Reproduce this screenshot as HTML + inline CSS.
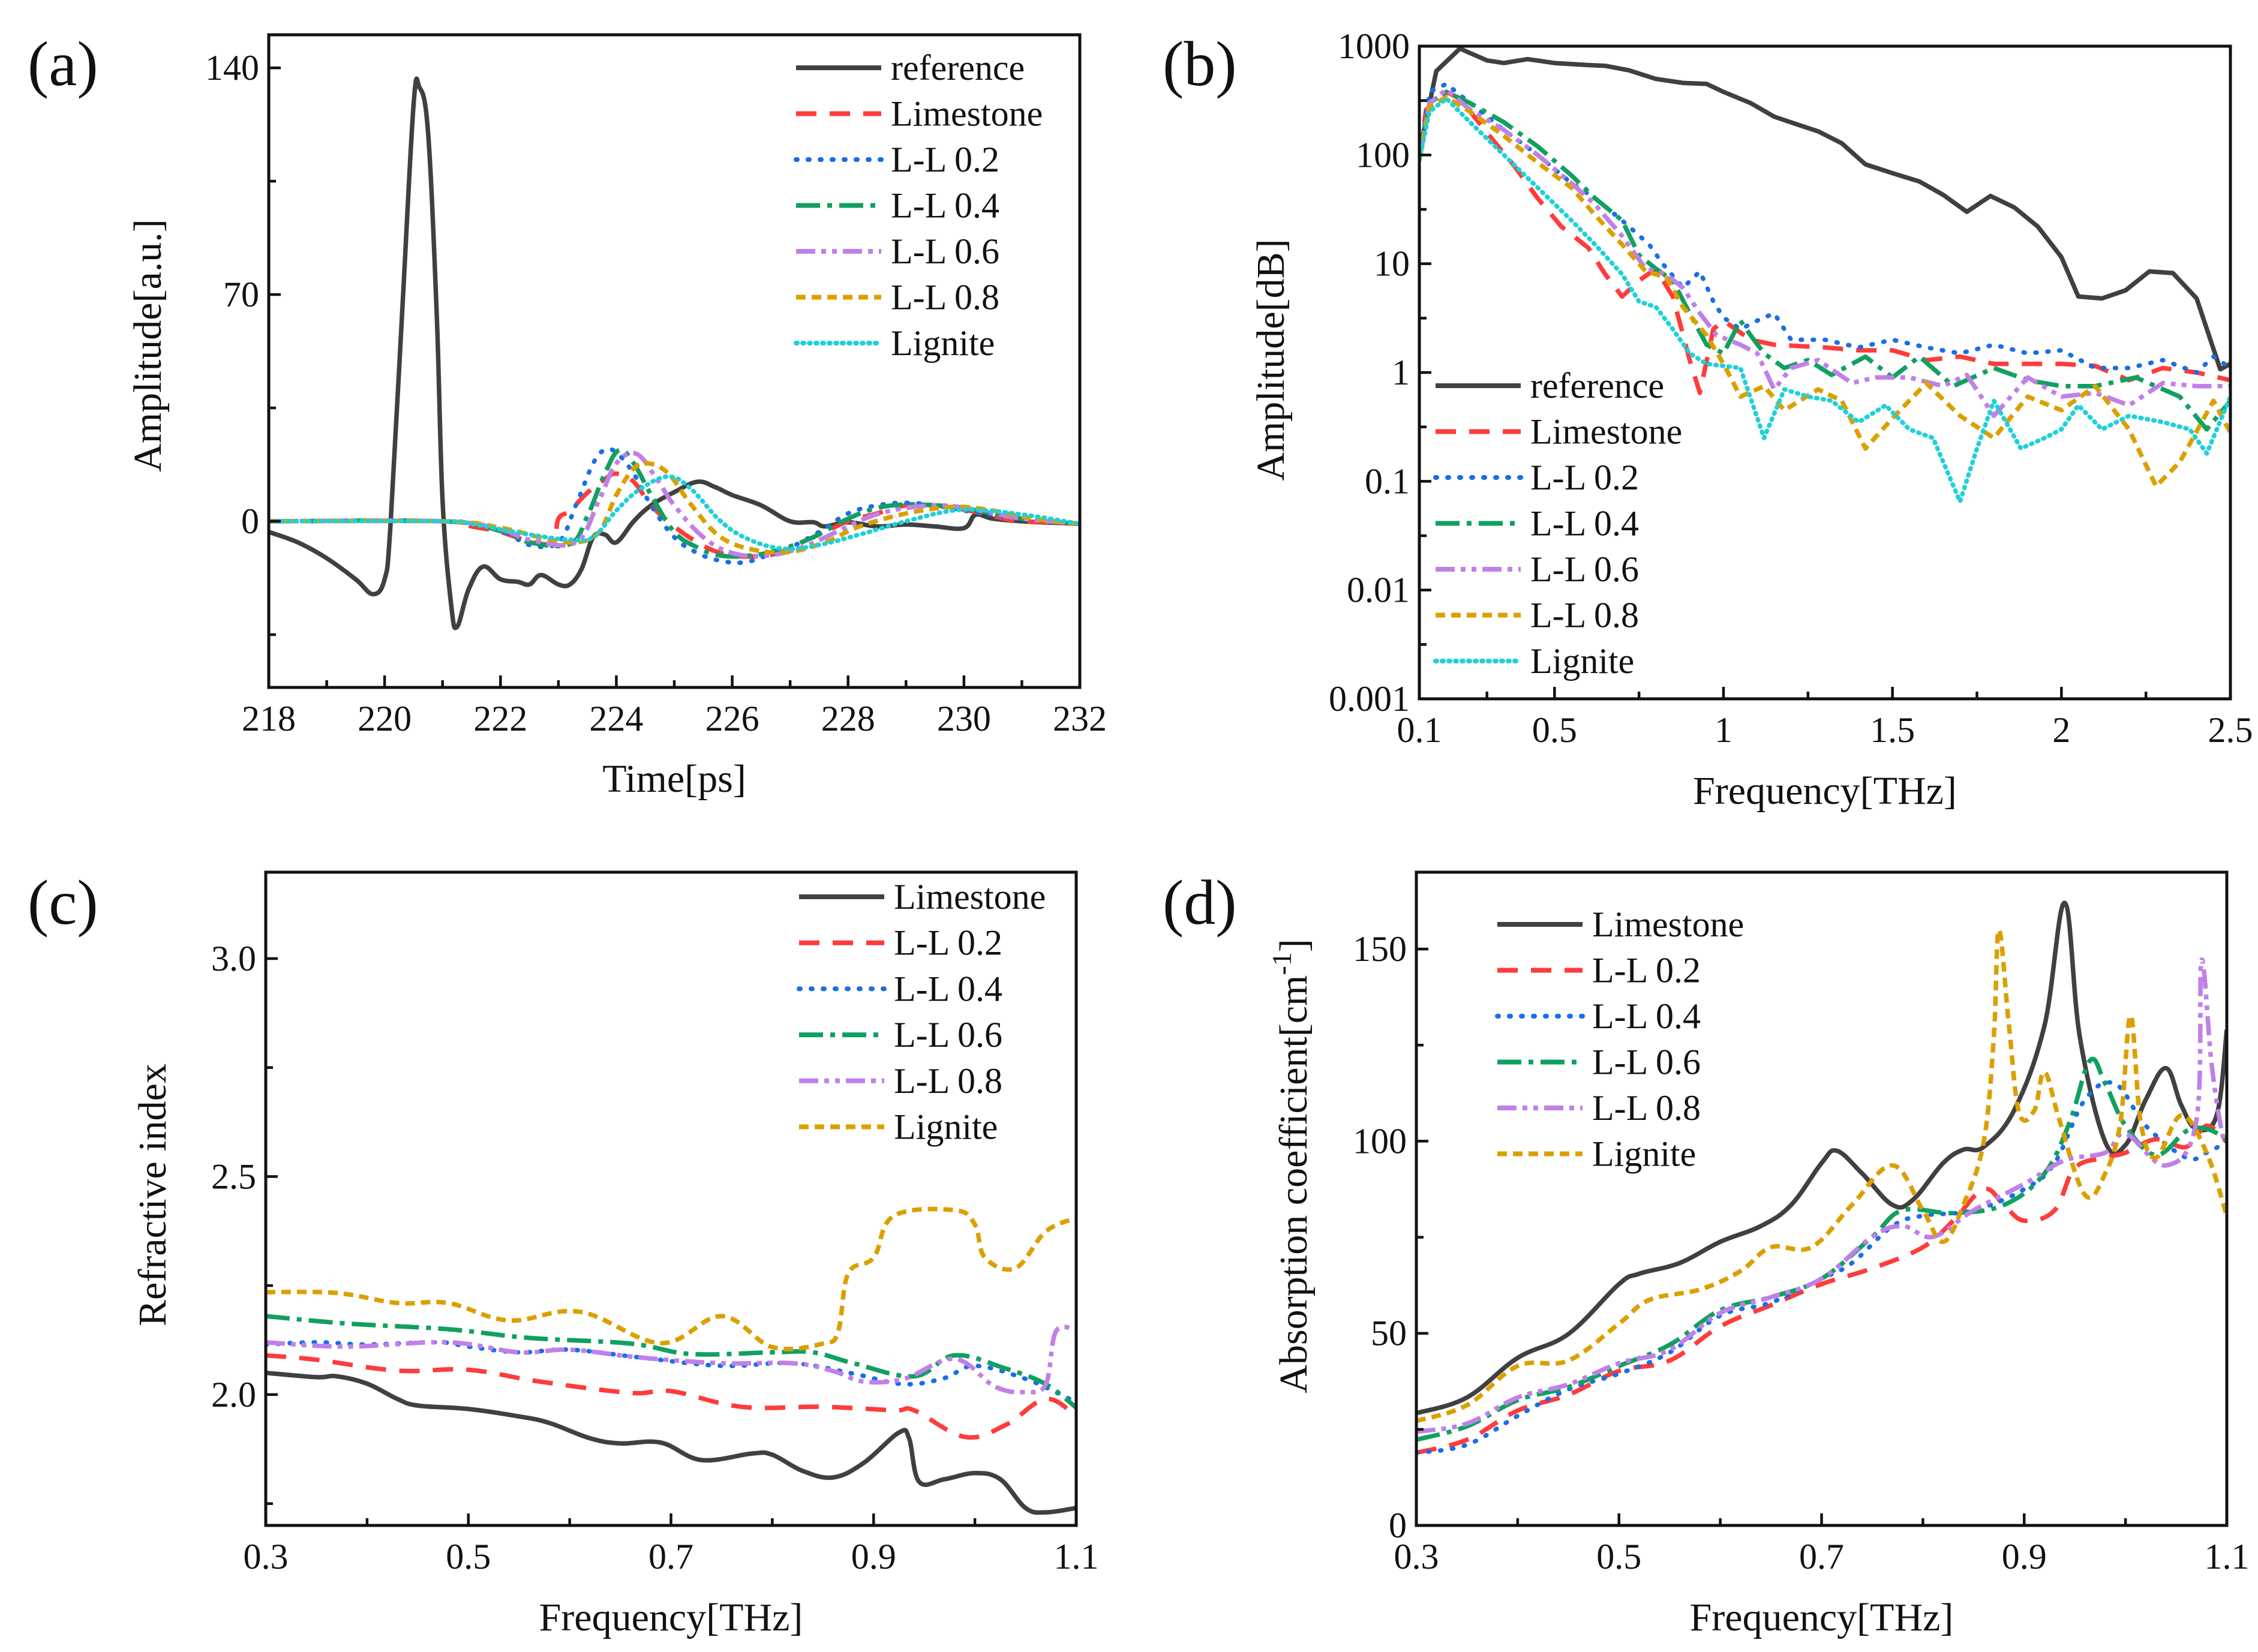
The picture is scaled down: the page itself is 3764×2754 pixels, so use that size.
<!DOCTYPE html>
<html><head><meta charset="utf-8"><style>
html,body{margin:0;padding:0;background:#fff;}
svg{display:block;}
svg text{font-family:"Liberation Serif","DejaVu Serif",serif;}
</style></head><body>
<svg id="fig" width="3764" height="2754" viewBox="0 0 3764 2754" xmlns="http://www.w3.org/2000/svg" font-family="Liberation Serif, DejaVu Serif, serif">
<rect width="3764" height="2754" fill="#fff"/>
</svg>
<script>
// ---------- Panel (a) data: [time ps, amplitude]
const aReference=[[218,-3.3],[218.5,-6.5],[219,-11.4],[219.5,-17.9],[219.8,-22.5],[220,-17.9],[220.1,-1.6],[220.3,63.5],[220.5,128.6],[220.6,134],[220.75,120],[220.9,63.5],[221,6.5],[221.15,-26],[221.25,-32.6],[221.45,-21],[221.7,-14],[222,-17.9],[222.3,-18.7],[222.5,-19.5],[222.7,-16.6],[223,-19.5],[223.2,-19.5],[223.4,-14.7],[223.6,-4.9],[223.8,-4.1],[224,-6.5],[224.3,0],[224.6,4.9],[225,9],[225.4,12.2],[225.7,10.6],[226,8.1],[226.5,4.9],[227,0],[227.4,-0.3],[227.6,-1.6],[228,-0.3],[228.5,-1.6],[229,-1],[229.5,-1.6],[230,-2.1],[230.2,2],[230.5,0.8],[231,0],[232,-0.8]];
const aLimestone=[[218,0],[221,0],[221.5,-1.6],[222,-3.3],[222.5,-6.2],[222.9,-6.5],[223,0.8],[223.2,3.3],[223.5,8.8],[223.8,13],[224,14.7],[224.3,12.2],[224.6,4.9],[225,-1.6],[225.4,-6.5],[225.8,-9.8],[226.3,-10.9],[226.8,-9.8],[227.2,-6.5],[227.6,-3.3],[228,0],[228.5,2.4],[229,4.9],[229.5,4.9],[230,3.6],[230.5,1.6],[231,0],[232,-0.8]];
const aLL02=[[218,0],[221,0],[222,-3],[222.5,-7.3],[223,-6.5],[223.3,4.9],[223.6,17.9],[223.8,22],[224,21.2],[224.3,14.7],[224.6,4.9],[225,-4.9],[225.4,-9.8],[225.8,-12.2],[226.2,-12.7],[226.6,-10.6],[227,-8.1],[227.5,-3.3],[228,2.4],[228.5,4.9],[229,5.7],[229.5,4.9],[230,3.3],[231,0.8],[232,-0.8]];
const aLL04=[[218,0],[221,0],[222,-3],[222.5,-6.5],[223.2,-7],[223.5,1.6],[223.8,14.7],[224.05,22],[224.3,17.9],[224.6,8.1],[225,-3.3],[225.4,-8.1],[225.8,-10.6],[226.3,-10.6],[226.8,-8.9],[227.4,-4.9],[228,0.8],[228.5,4.1],[229,5.2],[229.5,4.9],[230,4.1],[231,0.8],[232,-0.8]];
const aLL06=[[218,0],[221,0],[222,-2.5],[222.5,-5.7],[223.3,-6.5],[223.7,6.5],[224,17.9],[224.35,20.8],[224.7,13],[225,4.9],[225.5,-4.9],[226,-9.8],[226.6,-10.6],[227.2,-8.1],[227.8,-3.3],[228.4,1.6],[229,4.1],[229.6,4.9],[230.2,3.6],[231,0.8],[232,-0.8]];
const aLL08=[[218,0],[221,0],[222,-2],[222.7,-5],[223.3,-6.5],[223.7,-3.3],[224,8.1],[224.3,16.3],[224.55,17.9],[224.9,14.7],[225.3,4.9],[225.8,-4.9],[226.4,-8.9],[227,-9.4],[227.6,-6.5],[228.2,-1.6],[229,2.4],[229.8,4.4],[230.4,3.6],[231.2,0.8],[232,-0.8]];
const aLignite=[[218,0],[221,0],[221.5,-0.8],[222.5,-4.1],[223.2,-5.7],[223.6,-4.9],[224,3.3],[224.4,9.8],[224.9,13.8],[225.3,9.8],[225.8,0],[226.3,-5.7],[226.9,-8.5],[227.5,-7.3],[228.2,-4.1],[229,0],[229.8,3.3],[230.4,3.3],[231.2,1.6],[232,-0.8]];
const aXTicks=[218,220,222,224,226,228,230,232];
const aYTicks=[0,70,140];

// ---------- Panel (b) data: [freq THz, amplitude]
const bReference=[[0.1,105],[0.15,590],[0.22,950],[0.3,740],[0.35,700],[0.42,760],[0.5,700],[0.6,670],[0.65,660],[0.72,600],[0.8,500],[0.88,460],[0.95,450],[1.0,380],[1.08,300],[1.15,225],[1.22,190],[1.28,165],[1.35,128],[1.42,82],[1.5,68],[1.58,57],[1.65,43],[1.72,30],[1.79,42],[1.86,33],[1.93,22],[2.0,11.5],[2.05,5],[2.12,4.8],[2.19,5.7],[2.26,8.5],[2.33,8.2],[2.4,4.8],[2.47,1.07],[2.5,1.2]];
const bLimestone=[[0.1,100],[0.12,260],[0.18,380],[0.22,330],[0.3,160],[0.38,80],[0.45,40],[0.52,22],[0.6,14],[0.65,8],[0.7,5],[0.75,7],[0.8,9],[0.85,5],[0.9,1.3],[0.93,0.65],[0.97,2.5],[1.0,3.0],[1.08,2.0],[1.15,1.8],[1.3,1.7],[1.4,1.6],[1.5,1.6],[1.6,1.3],[1.7,1.4],[1.8,1.2],[1.9,1.2],[2.0,1.2],[2.1,1.15],[2.2,0.85],[2.3,1.1],[2.4,1.0],[2.5,0.85]];
const bLL02=[[0.1,90],[0.13,380],[0.18,450],[0.25,300],[0.35,170],[0.45,100],[0.55,55],[0.62,40],[0.7,25],[0.78,15],[0.82,10],[0.88,6],[0.93,8.5],[0.97,4.5],[1.0,3.2],[1.05,2.5],[1.1,3.0],[1.15,3.5],[1.2,2.0],[1.3,2.0],[1.4,1.7],[1.5,2.0],[1.6,1.7],[1.7,1.5],[1.8,1.8],[1.9,1.5],[2.0,1.6],[2.1,1.1],[2.2,1.1],[2.3,1.3],[2.4,1.0],[2.45,1.4],[2.5,1.1]];
const bLL04=[[0.1,90],[0.13,300],[0.18,380],[0.25,300],[0.35,200],[0.45,120],[0.55,65],[0.62,40],[0.7,25],[0.75,12],[0.8,9],[0.85,7],[0.9,3.5],[0.95,1.8],[1.0,1.5],[1.05,3.0],[1.08,2.2],[1.12,1.5],[1.18,1.1],[1.25,1.3],[1.32,0.95],[1.42,1.4],[1.5,0.9],[1.58,1.4],[1.68,0.75],[1.8,1.1],[1.9,0.85],[2.0,0.75],[2.1,0.75],[2.22,0.9],[2.35,0.6],[2.43,0.3],[2.5,0.55]];
const bLL06=[[0.1,90],[0.13,300],[0.18,400],[0.25,260],[0.35,170],[0.45,100],[0.55,55],[0.62,35],[0.7,18],[0.77,9],[0.83,8],[0.88,6],[0.93,3.5],[0.98,2.2],[1.05,1.8],[1.1,1.5],[1.15,0.7],[1.2,1.1],[1.28,1.3],[1.38,0.8],[1.45,0.9],[1.55,0.9],[1.65,0.75],[1.72,0.95],[1.8,0.4],[1.9,0.9],[2.0,0.6],[2.1,0.65],[2.2,0.5],[2.3,0.8],[2.4,0.75],[2.5,0.75]];
const bLL08=[[0.1,95],[0.13,280],[0.18,340],[0.25,250],[0.35,150],[0.45,85],[0.55,50],[0.62,28],[0.7,15],[0.77,8.5],[0.83,7.5],[0.88,4],[0.95,2.2],[1.0,1.2],[1.05,0.6],[1.12,0.75],[1.18,0.45],[1.28,0.7],[1.35,0.55],[1.42,0.2],[1.5,0.38],[1.6,0.8],[1.7,0.4],[1.8,0.25],[1.9,0.6],[2.0,0.45],[2.1,0.75],[2.2,0.3],[2.28,0.09],[2.35,0.15],[2.45,0.55],[2.5,0.28]];
const bLignite=[[0.1,90],[0.13,250],[0.18,330],[0.25,200],[0.35,100],[0.45,50],[0.55,25],[0.62,15],[0.7,8],[0.75,4.5],[0.8,4],[0.85,2.5],[0.9,1.5],[0.95,1.2],[1.0,1.15],[1.05,1.1],[1.12,0.25],[1.18,0.7],[1.25,0.6],[1.32,0.55],[1.4,0.35],[1.48,0.5],[1.55,0.3],[1.62,0.25],[1.7,0.065],[1.75,0.2],[1.8,0.55],[1.88,0.2],[1.95,0.25],[2.0,0.3],[2.05,0.5],[2.12,0.3],[2.2,0.4],[2.3,0.35],[2.38,0.3],[2.43,0.18],[2.5,0.6]];
const bXTicks=[0.1,0.5,1,1.5,2,2.5];
const bXTickLabels=["0.1","0.5","1","1.5","2","2.5"];
const bYTicks=[0.001,0.01,0.1,1,10,100,1000];
const bYTickLabels=["0.001","0.01","0.1","1","10","100","1000"];

// ---------- Panel (c) data: [freq THz, refractive index]
const cLimestone=[[0.3,2.05],[0.35,2.04],[0.37,2.042],[0.4,2.025],[0.43,1.99],[0.45,1.975],[0.5,1.967],[0.55,1.95],[0.58,1.935],[0.62,1.90],[0.65,1.888],[0.69,1.89],[0.73,1.85],[0.78,1.865],[0.8,1.862],[0.83,1.825],[0.86,1.81],[0.89,1.843],[0.925,1.913],[0.935,1.90],[0.945,1.80],[0.97,1.806],[1.0,1.82],[1.025,1.806],[1.05,1.74],[1.07,1.73],[1.1,1.74]];
const cLL02=[[0.3,2.09],[0.35,2.08],[0.43,2.055],[0.5,2.057],[0.57,2.03],[0.66,2.004],[0.7,2.008],[0.77,1.972],[0.85,1.972],[0.92,1.964],[0.94,1.964],[0.99,1.903],[1.03,1.93],[1.07,1.99],[1.1,1.95]];
const cLL04=[[0.3,2.115],[0.35,2.12],[0.4,2.115],[0.47,2.12],[0.5,2.11],[0.55,2.097],[0.6,2.103],[0.67,2.085],[0.75,2.066],[0.82,2.072],[0.88,2.048],[0.93,2.024],[0.97,2.038],[1.0,2.066],[1.05,2.036],[1.09,1.994],[1.1,1.982]];
const cLL06=[[0.3,2.18],[0.38,2.163],[0.48,2.15],[0.56,2.13],[0.66,2.117],[0.72,2.093],[0.8,2.097],[0.84,2.097],[0.88,2.072],[0.94,2.042],[0.98,2.09],[1.03,2.06],[1.07,2.024],[1.1,1.97]];
const cLL08=[[0.3,2.12],[0.38,2.11],[0.48,2.12],[0.55,2.097],[0.6,2.103],[0.67,2.085],[0.75,2.072],[0.82,2.072],[0.86,2.054],[0.89,2.03],[0.93,2.036],[0.98,2.082],[1.02,2.018],[1.05,2.006],[1.07,2.024],[1.08,2.145],[1.1,2.148]];
const cLignite=[[0.3,2.235],[0.37,2.233],[0.43,2.21],[0.48,2.21],[0.54,2.17],[0.61,2.19],[0.69,2.118],[0.75,2.18],[0.8,2.109],[0.85,2.117],[0.865,2.145],[0.875,2.278],[0.9,2.314],[0.92,2.41],[0.98,2.423],[1.0,2.39],[1.01,2.314],[1.04,2.29],[1.07,2.374],[1.1,2.405]];
const cXTicks=[0.3,0.5,0.7,0.9,1.1];
const cYTicks=[2.0,2.5,3.0];

// ---------- Panel (d) data: [freq THz, absorption cm^-1]
const dLimestone=[[0.3,29.2],[0.35,33.3],[0.4,43.6],[0.45,49.8],[0.5,62.8],[0.52,65.5],[0.56,68.3],[0.6,73.8],[0.64,77.9],[0.67,83.4],[0.7,94.3],[0.715,97.5],[0.74,91.6],[0.77,83.4],[0.79,84.7],[0.82,94.3],[0.84,97.8],[0.86,98.5],[0.89,108],[0.92,130],[0.94,162],[0.955,127],[0.98,99.8],[1.0,99],[1.02,110.8],[1.04,119],[1.055,109.4],[1.07,103.2],[1.09,106.7],[1.1,129]];
const dLL02=[[0.3,18.9],[0.35,22.3],[0.4,29.9],[0.45,34],[0.5,40.2],[0.55,42.9],[0.6,51.8],[0.65,57.3],[0.7,62.8],[0.75,66.9],[0.8,72.4],[0.83,79.3],[0.86,87.5],[0.88,83.4],[0.9,79.3],[0.93,82],[0.95,93],[0.98,95.7],[1.0,97],[1.03,100.5],[1.06,98.5],[1.08,104],[1.1,99.8]];
const dLL04=[[0.3,18.9],[0.35,21],[0.4,28.5],[0.45,35.4],[0.5,39.5],[0.55,45],[0.6,54.6],[0.65,58],[0.7,64.2],[0.73,68.3],[0.77,77.9],[0.8,80.6],[0.85,82],[0.9,87.5],[0.93,94.3],[0.96,110.8],[0.99,114.9],[1.02,104],[1.06,95.7],[1.08,97],[1.1,99.8]];
const dLL06=[[0.3,22.3],[0.35,25.8],[0.4,32.6],[0.45,36],[0.5,41.5],[0.55,47],[0.6,56],[0.65,59.4],[0.7,64.2],[0.75,75.1],[0.78,82],[0.83,81.3],[0.88,83.4],[0.92,91.6],[0.945,105],[0.965,121],[0.98,115],[1.0,104],[1.03,96.4],[1.06,102.6],[1.08,103.2],[1.1,100.5]];
const dLL08=[[0.3,24.4],[0.35,26.5],[0.4,33.3],[0.45,36.7],[0.5,42.2],[0.55,45.7],[0.6,55.3],[0.65,59.4],[0.7,64.2],[0.75,75.1],[0.78,77.9],[0.81,75.1],[0.85,82],[0.9,88.9],[0.94,95],[0.98,97],[1.0,101.9],[1.04,93.7],[1.07,105.3],[1.075,147],[1.085,120],[1.095,102.6],[1.1,99.8]];
const dLignite=[[0.3,27.2],[0.35,31.3],[0.4,41.5],[0.45,42.9],[0.5,52.5],[0.53,58.7],[0.58,61.4],[0.62,66.2],[0.65,72.4],[0.69,72.4],[0.73,83.4],[0.77,93.7],[0.8,82],[0.82,73.8],[0.84,83.4],[0.86,99.8],[0.87,127],[0.875,155],[0.885,130],[0.895,107.4],[0.91,108],[0.92,118],[0.935,105.3],[0.96,86],[0.98,91.6],[0.995,105],[1.005,132.7],[1.015,105],[1.03,95.7],[1.055,106.7],[1.08,97],[1.1,80.6]];
const dXTicks=[0.3,0.5,0.7,0.9,1.1];
const dYTicks=[0,50,100,150];

const NS="http://www.w3.org/2000/svg";
const FONT="Liberation Serif, DejaVu Serif, serif";
const svg=document.getElementById('fig');
const ST={
 reference:{c:'#404040',d:'none'},
 Limestone:{c:'#ff3b3b',d:'34,22'},
 LL02:{c:'#1a6ee6',d:'2,18'},
 LL04:{c:'#10a060',d:'40,12,8,12'},
 LL06:{c:'#c080e8',d:'32,10,8,10,8,10'},
 LL08:{c:'#dba000',d:'16,10'},
 Lignite:{c:'#20d0d8',d:'2,9'}
};
function mk(tag,attrs,parent){const e=document.createElementNS(NS,tag);for(const k in attrs)e.setAttribute(k,attrs[k]);(parent||svg).appendChild(e);return e;}
function txt(s,attrs,parent){attrs['font-family']=FONT;const e=mk('text',attrs,parent);e.textContent=s;return e;}
function smoothPath(pts){
 if(pts.length<3){return 'M'+pts.map(p=>p.join(',')).join('L');}
 let d='M'+pts[0][0].toFixed(1)+','+pts[0][1].toFixed(1);
 for(let i=0;i<pts.length-1;i++){
  const p0=pts[Math.max(i-1,0)],p1=pts[i],p2=pts[i+1],p3=pts[Math.min(i+2,pts.length-1)];
  const t=0.18;
  const c1=[p1[0]+(p2[0]-p0[0])*t,p1[1]+(p2[1]-p0[1])*t];
  const c2=[p2[0]-(p3[0]-p1[0])*t,p2[1]-(p3[1]-p1[1])*t];
  d+='C'+c1[0].toFixed(1)+','+c1[1].toFixed(1)+' '+c2[0].toFixed(1)+','+c2[1].toFixed(1)+' '+p2[0].toFixed(1)+','+p2[1].toFixed(1);
 }
 return d;
}
function panel(o){
 const g=mk('g',{});
 
 
 const xs=v=>o.L+(v-o.x0)/(o.x1-o.x0)*(o.R-o.L);
 const yv=v=>o.log?Math.log10(v):v;
 const ys=v=>o.B-(yv(v)-yv(o.y0))/(yv(o.y1)-yv(o.y0))*(o.B-o.T);
 const clip=mk('clipPath',{id:'clip-'+o.name},g);
 mk('rect',{x:o.L,y:o.T,width:o.R-o.L,height:o.B-o.T},clip);
 const sg=mk('g',{'clip-path':'url(#clip-'+o.name+')'},g);
 o.series.forEach(s=>{
  const st=ST[s.key];
  const pts=s.data.map(p=>[xs(p[0]),ys(p[1])]);
  const p=mk('path',{d:o.smooth?smoothPath(pts):'M'+pts.map(q=>q[0].toFixed(1)+','+q[1].toFixed(1)).join('L'),fill:'none',stroke:st.c,'stroke-width':7.5,'stroke-dasharray':st.d,'stroke-linecap':st.d.startsWith('2,')?'round':'butt','stroke-linejoin':'round'},sg);
  
  
 });
 const fr=mk('rect',{x:o.L,y:o.T,width:o.R-o.L,height:o.B-o.T,fill:'none',stroke:'#111','stroke-width':5},g);
 
 
 o.xt.forEach((v,i)=>{
  const x=xs(v);
  mk('line',{x1:x,y1:o.B,x2:x,y2:o.B-20,stroke:'#111','stroke-width':4.5},g);
  const t=txt(o.xl?o.xl[i]:String(v),{x:x,y:o.B+72,'font-size':60,'text-anchor':'middle',fill:'#111'},g);
  
  
 });
 (o.xm||[]).forEach(v=>{const x=xs(v);mk('line',{x1:x,y1:o.B,x2:x,y2:o.B-12,stroke:'#111','stroke-width':4.5},g);});
 o.yt.forEach((v,i)=>{
  const y=ys(v);
  mk('line',{x1:o.L,y1:y,x2:o.L+20,y2:y,stroke:'#111','stroke-width':4.5},g);
  const t=txt(o.yl?o.yl[i]:String(o.yfmt?v.toFixed(o.yfmt):v),{x:o.L-16,y:y+20,'font-size':60,'text-anchor':'end',fill:'#111'},g);
  
  
 });
 (o.ym||[]).forEach(v=>{const y=ys(v);mk('line',{x1:o.L,y1:y,x2:o.L+12,y2:y,stroke:'#111','stroke-width':4.5},g);});
 const xt=txt(o.xtitle,{x:(o.L+o.R)/2,y:o.xtY,'font-size':66,'text-anchor':'middle',fill:'#111'},g);
 
 
 const yt=txt('',{x:0,y:0,'font-size':66,'text-anchor':'middle',fill:'#111',transform:'translate('+o.ytX+','+o.ytC+') rotate(-90)'},g);
 
 
 if(o.ytitleSup){
  yt.appendChild(document.createTextNode(o.ytitle));
  const ts=mk('tspan',{'font-size':46,dy:-26},yt);ts.textContent='-1';
  const ts2=mk('tspan',{dy:26},yt);ts2.textContent=']';
 } else yt.textContent=o.ytitle;
 const pl=txt(o.label,{x:o.plX,y:o.plY,'font-size':106,fill:'#111'},g);
 
 
 const lg=mk('g',{},g);
 
 
 o.series.forEach((s,i)=>{
  const st=ST[s.key];const y=o.lgY+i*o.lgStep;
  const e=mk('g',{},lg);
  
  
  mk('line',{x1:o.lgX,y1:y,x2:o.lgX+142,y2:y,stroke:st.c,'stroke-width':8,'stroke-dasharray':st.d,'stroke-linecap':st.d.startsWith('2,')?'round':'butt'},e);
  txt(s.label,{x:o.lgX+158,y:y+20,'font-size':60,fill:'#111'},e);
 });
}
panel({name:'panel-a',L:448,R:1800,T:58,B:1146,x0:218,x1:232,y0:-51.3,y1:150.2,smooth:true,
 xt:aXTicks,xm:[219,221,223,225,227,229,231],yt:aYTicks,ym:[-35,35,105],
 xtitle:'Time[ps]',xtY:1320,ytitle:'Amplitude[a.u.]',ytX:268,ytC:576,label:'(a)',plX:46,plY:142,
 lgX:1327,lgY:113,lgStep:76.5,
 series:[{key:'reference',label:'reference',data:aReference},{key:'Limestone',label:'Limestone',data:aLimestone},{key:'LL02',label:'L-L 0.2',data:aLL02},{key:'LL04',label:'L-L 0.4',data:aLL04},{key:'LL06',label:'L-L 0.6',data:aLL06},{key:'LL08',label:'L-L 0.8',data:aLL08},{key:'Lignite',label:'Lignite',data:aLignite}]});
panel({name:'panel-b',L:2366,R:3718,T:77,B:1165,x0:0.1,x1:2.5,y0:0.001,y1:1000,log:true,smooth:false,
 xt:bXTicks,xl:bXTickLabels,xm:[0.3,0.75,1.25,1.75,2.25],yt:bYTicks,yl:bYTickLabels,ym:[0.00316,0.0316,0.316,3.16,31.6,316],
 xtitle:'Frequency[THz]',xtY:1340,ytitle:'Amplitude[dB]',ytX:2140,ytC:600,label:'(b)',plX:1938,plY:142,
 lgX:2393,lgY:643,lgStep:76.5,
 series:[{key:'reference',label:'reference',data:bReference},{key:'Limestone',label:'Limestone',data:bLimestone},{key:'LL02',label:'L-L 0.2',data:bLL02},{key:'LL04',label:'L-L 0.4',data:bLL04},{key:'LL06',label:'L-L 0.6',data:bLL06},{key:'LL08',label:'L-L 0.8',data:bLL08},{key:'Lignite',label:'Lignite',data:bLignite}]});
panel({name:'panel-c',L:443,R:1794,T:1454,B:2543,x0:0.3,x1:1.1,y0:1.70,y1:3.198,smooth:true,yfmt:1,
 xt:cXTicks,xm:[0.4,0.6,0.8,1.0],yt:cYTicks,ym:[1.75,2.25,2.75],
 xtitle:'Frequency[THz]',xtY:2718,ytitle:'Refractive index',ytX:276,ytC:1992,label:'(c)',plX:46,plY:1540,
 lgX:1332,lgY:1495,lgStep:76.7,
 series:[{key:'reference',label:'Limestone',data:cLimestone},{key:'Limestone',label:'L-L 0.2',data:cLL02},{key:'LL02',label:'L-L 0.4',data:cLL04},{key:'LL04',label:'L-L 0.6',data:cLL06},{key:'LL06',label:'L-L 0.8',data:cLL08},{key:'LL08',label:'Lignite',data:cLignite}]});
panel({name:'panel-d',L:2361,R:3712,T:1454,B:2543,x0:0.3,x1:1.1,y0:0,y1:170,smooth:true,
 xt:dXTicks,xm:[0.4,0.6,0.8,1.0],yt:dYTicks,ym:[25,75,125],
 xtitle:'Frequency[THz]',xtY:2718,ytitle:'Absorption coefficient[cm',ytitleSup:true,ytX:2178,ytC:1944,label:'(d)',plX:1938,plY:1540,
 lgX:2496,lgY:1541,lgStep:76.5,
 series:[{key:'reference',label:'Limestone',data:dLimestone},{key:'Limestone',label:'L-L 0.2',data:dLL02},{key:'LL02',label:'L-L 0.4',data:dLL04},{key:'LL04',label:'L-L 0.6',data:dLL06},{key:'LL06',label:'L-L 0.8',data:dLL08},{key:'LL08',label:'Lignite',data:dLignite}]});
</script>
</body></html>
